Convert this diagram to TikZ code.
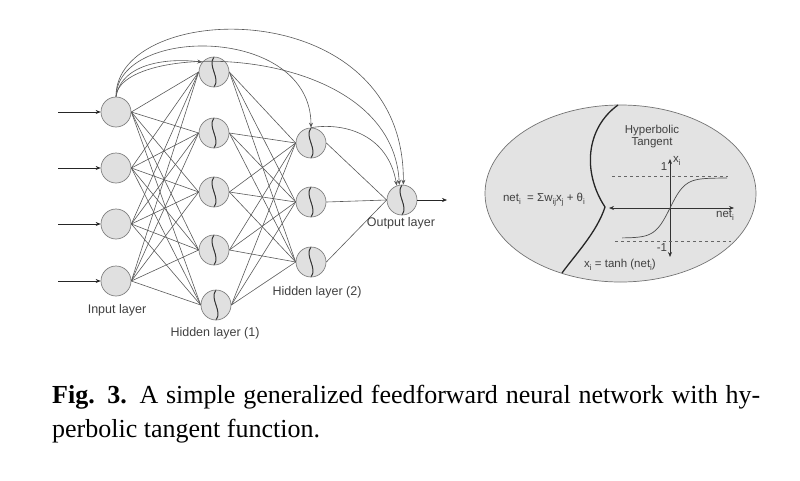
\documentclass[tikz,border=0pt]{standalone}
\usepackage{fontspec}
\setmainfont{Liberation Serif}
\setsansfont{Liberation Sans}
\usetikzlibrary{arrows.meta,shapes.geometric}
\newcommand\sbs[1]{\raisebox{-0.45ex}{\fontsize{8}{8}\selectfont #1}}
\begin{document}
\begin{tikzpicture}[x=1pt,y=-1pt,
 neuron/.style={circle,draw=black!50,fill=black!12,minimum size=30pt,inner sep=0pt,line width=0.7pt},
 sig/.style={neuron,path picture={\draw[black!80,line width=1pt] (path picture bounding box.north) .. controls +(-7pt,-9pt) and +(7pt,9pt) .. (path picture bounding box.south);}},
 conn/.style={black!65,line width=0.6pt},
 arr/.style={-{Stealth[length=5pt,width=4pt]}},
 lbl/.style={font=\sffamily\fontsize{12.5}{14}\selectfont,text=black!75},
 elab/.style={font=\sffamily\fontsize{11.5}{13}\selectfont,text=black!75,inner sep=0pt},
 captxt/.style={font=\fontsize{26}{30}\selectfont,anchor=base west,inner sep=0pt},
]
\useasboundingbox (0,0) rectangle (800,480);
% input layer
\foreach \n/\y in {1/112,2/168,3/224,4/281}{
  \node[neuron] (i\n) at (116,\y) {};
  \coordinate (s\n) at (58,\y);
  \draw[conn,black!85,arr] (s\n) -- (i\n);
}
% hidden layer 1
\foreach \n/\x/\y in {1/214/72,2/214/133,3/214/192,4/214/250,5/216/305}{
  \node[sig] (h\n) at (\x,\y) {};
}
% hidden layer 2
\foreach \n/\y in {1/143,2/202,3/262}{
  \node[sig] (g\n) at (311,\y) {};
}
% output
\node[sig] (o) at (402,200) {};
\coordinate (oe) at (447,200);
\draw[conn,black!85,arr] (o) -- (oe);
% full connections
\foreach \a in {1,...,4}{\foreach \b in {1,...,5}{\draw[conn] (i\a.east) -- (h\b.west);}}
\foreach \a in {1,...,5}{\foreach \b in {1,...,3}{\draw[conn] (h\a.east) -- (g\b.west);}}
\foreach \a in {1,...,3}{\draw[conn] (g\a.east) -- (o.west);}
% skip connections
\draw[conn,arr] (i1.north) .. controls (122,62) and (170,58) .. (h1.140);
\draw[conn,arr] (i1.north) .. controls (118,25) and (311,25) .. (g1.north);
\draw[conn,arr] (i1.north) .. controls (120,40) and (392,40) .. (o.100);
\draw[conn,arr] (i1.north) .. controls (115,0) and (405,-10) .. (o.85);
\draw[conn,arr] (g1.north) .. controls (345,122) and (388,135) .. (o.110);
% labels
\node[lbl] (li) at (117,310) {Input layer};
\node[lbl] (lh1) at (215,333) {Hidden layer (1)};
\node[lbl] (lh2) at (317,292) {Hidden layer (2)};
\node[lbl] (lo) at (401,223) {Output layer};
% ellipse
\node[ellipse,draw=black!55,fill=black!11,minimum width=271pt,minimum height=177pt,line width=0.7pt] (el) at (620.5,193.5) {};
\draw[black!85,line width=1.3pt] (618,105) .. controls (586,128) and (582,172) .. (605,207) .. controls (597,232) and (575,255) .. (562,273);
\coordinate (ax1) at (609,208);
\coordinate (ax2) at (734,208);
\coordinate (ay1) at (670,159);
\coordinate (ay2) at (670,257);
\draw[black!80,line width=0.7pt,{Stealth[length=5pt,width=4pt]}-{Stealth[length=5pt,width=4pt]}] (ax1) -- (ax2);
\draw[black!80,line width=0.7pt,{Stealth[length=5pt,width=4pt]}-{Stealth[length=5pt,width=4pt]}] (ay1) -- (ay2);
\coordinate (d1a) at (612,176); \coordinate (d1b) at (728,176);
\coordinate (d2a) at (615,241); \coordinate (d2b) at (731,241);
\draw[black!60,dashed,line width=0.7pt] (d1a) -- (d1b);
\draw[black!60,dashed,line width=0.7pt] (d2a) -- (d2b);
\draw[black!70,line width=0.7pt] plot[domain=-48:57,samples=60] ({670+\x},{208-30*tanh(\x/15)});
\node[elab,align=center] (ht) at (652,137) {Hyperbolic\\[-1pt]Tangent};
\node[elab,anchor=west] (xi) at (673,161) {x\sbs{i}};
\node[elab] (one) at (664,167) {1};
\node[elab] (mone) at (662,248) {-1};
\node[elab,anchor=west] (net) at (716,215) {net\sbs{i}};
\node[elab] (f1) at (544,200) {net\sbs{i} \ = Σw\sbs{ij}x\sbs{j} + θ\sbs{i}};
\node[elab] (f2) at (620,265) {x\sbs{i} = tanh (net\sbs{i})};
% caption
\node[captxt] (c1) at (52,403) {\makebox[708pt][s]{\textbf{Fig. 3.} A simple generalized feedforward neural network with hy-}};
\node[captxt] (c2) at (52,437) {perbolic tangent function.};
\end{tikzpicture}
\end{document}
